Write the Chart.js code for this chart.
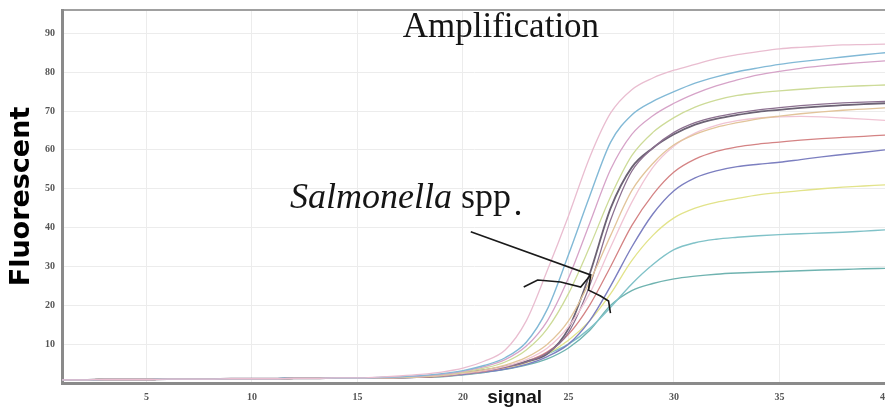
<!DOCTYPE html>
<html lang="en">
<head>
<meta charset="UTF-8">
<title>Amplification</title>
<script src="https://cdn.jsdelivr.net/npm/chart.js"></script>
<style>
  html, body { margin: 0; padding: 0; background: #fff; }
  #wrap { width: 885px; height: 407px; position: relative; }
</style>
</head>
<body>
<div id="wrap"><canvas id="ampChart"></canvas></div>
<script>
  // cycle numbers (x axis)
  const cycles = [1, 2, 3, 4, 5, 6, 7, 8, 9, 10, 11, 12, 13, 14, 15, 16, 17, 18, 19, 20,
                  21, 22, 23, 24, 25, 26, 27, 28, 29, 30, 31, 32, 33, 34, 35, 36, 37, 38, 39, 40];
  const xTicks = [5, 10, 15, 20, 25, 30, 35, 40];

  // flat part of every curve, cycles 1-15
  const baseline = [0.8, 0.8, 0.9, 0.9, 0.9, 1.0, 1.0, 1.0, 1.1, 1.1, 1.1, 1.2, 1.2, 1.3, 1.3];

  // fluorescence per well, cycles 16-40
  const pink      = [...baseline, 1.5, 1.8, 2.2, 2.8, 3.8, 5.6, 8.5, 16, 29, 43, 58, 69.5, 75.5, 78.5, 80.5, 82, 83.5, 84.5, 85.3, 86, 86.4, 86.7, 87, 87.1, 87.2];
  const lightBlue = [...baseline, 1.4, 1.6, 1.9, 2.4, 3.2, 4.5, 6.5, 10.5, 19, 33, 48, 62, 69, 72.5, 75, 77.2, 78.8, 80.1, 81.1, 82, 82.7, 83.3, 83.9, 84.5, 85];
  const magenta   = [...baseline, 1.4, 1.6, 1.8, 2.2, 3.0, 4.2, 6.0, 9.5, 16, 27, 41, 55, 64, 68.8, 72, 74.5, 76.5, 78, 79.3, 80.2, 81, 81.6, 82.1, 82.5, 82.9];
  const lime      = [...baseline, 1.4, 1.5, 1.7, 2.1, 2.8, 3.8, 5.4, 8.5, 14, 23, 35, 48, 58.5, 64.5, 68.3, 71, 72.8, 74, 74.7, 75.2, 75.6, 76, 76.3, 76.5, 76.7];
  const darkGray  = [...baseline, 1.3, 1.4, 1.6, 2.0, 2.6, 3.3, 4.2, 5.5, 7.5, 14, 28, 45, 55.5, 60.5, 64, 66.5, 68, 69, 69.8, 70.3, 70.8, 71.2, 71.5, 71.8, 72];
  const plum      = [...baseline, 1.3, 1.4, 1.6, 2.0, 2.5, 3.2, 4.1, 5.4, 7.8, 13, 25, 42, 54.5, 60.5, 64.5, 67, 68.5, 69.5, 70.3, 70.9, 71.4, 71.8, 72.1, 72.3, 72.5];
  const tan       = [...baseline, 1.3, 1.4, 1.6, 2.0, 2.6, 3.4, 4.6, 6.6, 10, 16, 26, 38, 49.5, 56.5, 61.3, 64, 65.8, 67, 68, 68.7, 69.3, 69.8, 70.2, 70.5, 70.8];
  const rose      = [...baseline, 1.3, 1.4, 1.6, 1.9, 2.5, 3.2, 4.3, 6.0, 9, 14.5, 23, 35, 46.5, 55.5, 61, 64.3, 66.3, 67.5, 68.2, 68.5, 68.6, 68.5, 68.2, 67.9, 67.6];
  const red       = [...baseline, 1.3, 1.4, 1.5, 1.8, 2.4, 3.0, 4.0, 5.5, 8, 12.5, 20, 30, 40.5, 48.5, 54.3, 57.6, 59.6, 60.8, 61.5, 62, 62.5, 62.9, 63.2, 63.5, 63.8];
  const violet    = [...baseline, 1.3, 1.4, 1.5, 1.7, 2.2, 2.8, 3.6, 4.8, 6.8, 10, 16, 25, 35, 43.5, 49.5, 52.8, 54.6, 55.7, 56.3, 56.8, 57.5, 58.2, 58.8, 59.4, 60];
  const yellow    = [...baseline, 1.3, 1.4, 1.5, 1.7, 2.2, 2.9, 3.8, 5.2, 7.5, 11, 16, 23, 31.5, 38, 42.5, 45, 46.5, 47.5, 48.4, 49, 49.5, 50, 50.4, 50.7, 51];
  const teal      = [...baseline, 1.3, 1.4, 1.6, 1.8, 2.4, 3.1, 4.2, 5.6, 7.5, 10, 14, 19.5, 25.5, 30.5, 34.3, 36.1, 37, 37.5, 37.9, 38.2, 38.4, 38.6, 38.8, 39.1, 39.4];
  const seaGreen  = [...baseline, 1.3, 1.4, 1.5, 1.6, 2.1, 2.7, 3.5, 4.6, 6.2, 9, 13.5, 20, 23.8, 25.6, 26.8, 27.5, 28, 28.3, 28.5, 28.7, 28.9, 29.1, 29.2, 29.4, 29.5];

  const wells = [
    { data: pink,      color: '#e9bdd0', width: 1.3 },
    { data: lightBlue, color: '#82b9d6', width: 1.4 },
    { data: magenta,   color: '#d6a3c8', width: 1.3 },
    { data: lime,      color: '#cddb98', width: 1.3 },
    { data: tan,       color: '#e2c49a', width: 1.3 },
    { data: rose,      color: '#f0c4d4', width: 1.3 },
    { data: plum,      color: '#8c7090', width: 1.3 },
    { data: darkGray,  color: '#6c6274', width: 1.8 },
    { data: red,       color: '#d48384', width: 1.3 },
    { data: violet,    color: '#7c7fc0', width: 1.4 },
    { data: yellow,    color: '#e2e38a', width: 1.3 },
    { data: teal,      color: '#80c2c8', width: 1.4 },
    { data: seaGreen,  color: '#6fb3b0', width: 1.4 }
  ];

  // annotation anchors in chart units (cycle, fluorescence)
  const titleAt = [21.8, 89];
  const labelAt = [11.8, 45];
  const dotAt = [22.4, 43.2];
  const signalAt = 22.45;
  const arrowLine = [[20.37, 38.9], [26.05, 27.8], [25.58, 24.7], [24.63, 26.0], [23.54, 26.5], [22.88, 24.7]];
  const hookLine = [[26.05, 27.8], [25.95, 23.9], [26.52, 22.4], [26.9, 21.1], [26.99, 18.0]];

  const notes = {
    id: 'notes',
    afterDatasetsDraw(chart) {
      const { ctx, scales: { x, y }, chartArea } = chart;
      ctx.save();
      ctx.fillStyle = '#151515';
      ctx.textBaseline = 'alphabetic';

      ctx.font = '35px "Liberation Serif"';
      ctx.textAlign = 'center';
      ctx.fillText('Amplification', x.getPixelForValue(titleAt[0]), y.getPixelForValue(titleAt[1]));

      ctx.textAlign = 'left';
      let lx = x.getPixelForValue(labelAt[0]);
      const ly = y.getPixelForValue(labelAt[1]);
      ctx.font = 'italic 36px "Liberation Serif"';
      ctx.fillText('Salmonella', lx, ly);
      lx += ctx.measureText('Salmonella ').width;
      ctx.font = '36px "Liberation Serif"';
      ctx.fillText('spp', lx, ly);
      ctx.fillText('.', x.getPixelForValue(dotAt[0]), y.getPixelForValue(dotAt[1]));

      ctx.strokeStyle = '#1a1a1a';
      ctx.lineWidth = 1.6;
      [arrowLine, hookLine].forEach(line => {
        ctx.beginPath();
        line.forEach((p, i) => {
          const px = x.getPixelForValue(p[0]);
          const py = y.getPixelForValue(p[1]);
          if (i === 0) ctx.moveTo(px, py); else ctx.lineTo(px, py);
        });
        ctx.stroke();
      });

      ctx.font = 'bold 19px "Liberation Sans"';
      ctx.textAlign = 'center';
      ctx.fillText('signal', x.getPixelForValue(signalAt), chartArea.bottom + 20);
      ctx.restore();
    }
  };

  const ctx = document.getElementById('ampChart').getContext('2d');
  new Chart(ctx, {
    type: 'line',
    data: {
      datasets: wells.map(w => ({
        data: w.data.map((v, i) => ({ x: cycles[i], y: v })),
        borderColor: w.color,
        borderWidth: w.width,
        pointRadius: 0,
        cubicInterpolationMode: 'monotone',
        fill: false
      }))
    },
    options: {
      responsive: true,
      maintainAspectRatio: false,
      animation: false,
      layout: { padding: { top: 10, right: 0, left: 0, bottom: 0 } },
      plugins: { legend: { display: false }, tooltip: { enabled: false } },
      scales: {
        x: {
          type: 'linear',
          min: 1,
          max: 40,
          afterBuildTicks: scale => { scale.ticks = xTicks.map(v => ({ value: v })); },
          afterFit: scale => { scale.height = 24; scale.paddingLeft = 0; scale.paddingRight = 0; },
          grid: { color: '#ececec', drawTicks: false },
          border: { color: '#8a8a8a', width: 3 },
          ticks: {
            padding: 8,
            color: '#555',
            font: { family: 'Liberation Serif', size: 10, weight: 'bold' }
          }
        },
        y: {
          min: 0,
          max: 96,
          afterFit: scale => { scale.width = 62; scale.paddingTop = 0; scale.paddingBottom = 0; },
          grid: {
            drawTicks: false,
            color: c => (c.tick && c.tick.value === 96 ? '#a0a0a0' : '#ececec'),
            lineWidth: c => (c.tick && c.tick.value === 96 ? 2 : 1)
          },
          border: { color: '#8a8a8a', width: 3 },
          ticks: {
            stepSize: 10,
            padding: 7,
            color: '#555',
            font: { family: 'Liberation Serif', size: 10, weight: 'bold' },
            callback: v => (v === 0 || v === 96 ? '' : v)
          },
          title: {
            display: true,
            text: 'Fluorescent',
            color: '#000',
            padding: { top: 6, bottom: 0 },
            font: { family: 'DejaVu Sans', size: 27, weight: 'bold' }
          }
        }
      }
    },
    plugins: [notes]
  });
</script>
</body>
</html>
